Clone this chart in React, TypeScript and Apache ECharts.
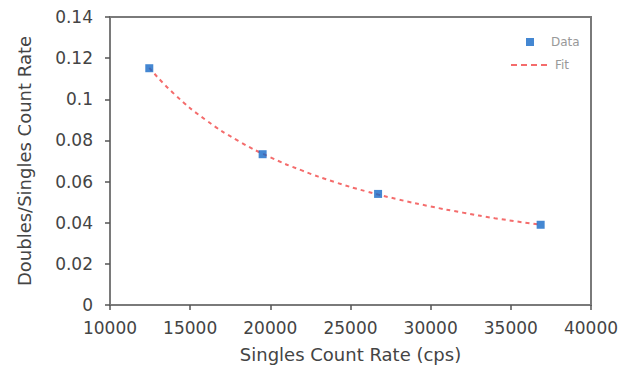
import React, { useEffect, useRef } from "react";
import * as echarts from "echarts";

const dataX = [12450, 19520, 26720, 36860];
const dataY = [0.1151, 0.0733, 0.054, 0.039];

const fitX = [12450, 14000, 16000, 18000, 20000, 22000, 24000, 26000, 28000, 30000, 32000, 34000, 36860];
const fitY = [0.1153, 0.1026, 0.0898, 0.0798, 0.0718, 0.0653, 0.0598, 0.0552, 0.0513, 0.0479, 0.0449, 0.0422, 0.039];

const xTitle = "Singles Count Rate (cps)";
const yTitle = "Doubles/Singles Count Rate";

const FONT = "DejaVu Sans";

export default function App() {
  const ref = useRef<HTMLDivElement>(null);
  useEffect(() => {
    if (!ref.current) return;
    const chart = echarts.init(ref.current, null, { renderer: "svg" });
    const axisCommon = {
      axisLine: { show: true, lineStyle: { color: "#7a7a7a", width: 2 } },
      axisTick: { show: true, length: 5, lineStyle: { color: "#555", width: 1.5 } },
      splitLine: { show: false },
      nameTextStyle: { fontFamily: FONT, fontSize: 18, color: "#444" },
    };
    chart.setOption({
      animation: false,
      backgroundColor: "#fff",
      grid: { left: 110, right: 42, top: 17, bottom: 76, show: true, borderColor: "#7a7a7a", borderWidth: 2 },
      legend: [
        {
          data: [{ name: "Data", icon: "rect" }],
          left: 521,
          top: 31,
          itemWidth: 8,
          itemHeight: 8,
          textStyle: { fontFamily: FONT, fontSize: 12, color: "#999", padding: [0, 0, 0, 12] },
        },
        {
          data: [
            {
              name: "Fit",
              icon: "path://M0,0h6v2h-6z M10,0h6v2h-6z M20,0h6v2h-6z M30,0h6v2h-6z",
            },
          ],
          left: 506,
          top: 54,
          itemWidth: 36,
          itemHeight: 2,
          textStyle: { fontFamily: FONT, fontSize: 12, color: "#999", padding: [0, 0, 0, 3] },
        },
      ],
      xAxis: {
        type: "value",
        min: 10000,
        max: 40000,
        interval: 5000,
        name: xTitle,
        nameLocation: "middle",
        nameGap: 40,
        ...axisCommon,
        axisLabel: {
          fontFamily: FONT,
          fontSize: 17,
          color: "#444",
          margin: 14,
          formatter: (v: number) => String(v),
        },
      },
      yAxis: {
        type: "value",
        min: 0,
        max: 0.14,
        interval: 0.02,
        name: yTitle,
        nameLocation: "middle",
        nameGap: 77,
        ...axisCommon,
        axisLabel: { fontFamily: FONT, fontSize: 17, color: "#444", margin: 17 },
      },
      series: [
        {
          name: "Fit",
          type: "line",
          data: fitX.map((x, i) => [x, fitY[i]]),
          smooth: true,
          symbol: "none",
          lineStyle: { color: "#f46c6c", width: 2, type: [4, 4] },
          itemStyle: { color: "#f46c6c" },
          z: 2,
        },
        {
          name: "Data",
          type: "scatter",
          data: dataX.map((x, i) => [x, dataY[i]]),
          symbol: "rect",
          symbolSize: 8,
          itemStyle: { color: "#1569c7" },
          z: 3,
        },
      ],
    });
    return () => chart.dispose();
  }, []);
  return (
    <div
      ref={ref}
      style={{ position: "fixed", left: 0, top: 0, width: 633, height: 381, background: "#fff" }}
    />
  );
}
